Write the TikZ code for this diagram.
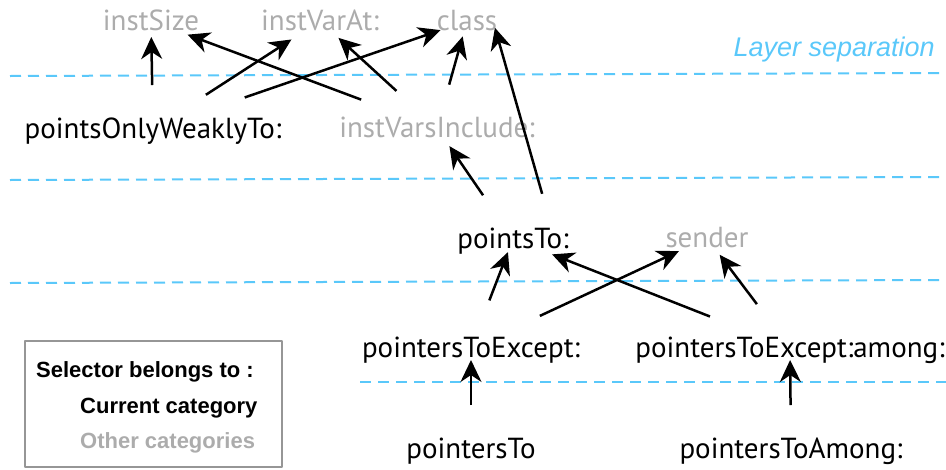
\documentclass[tikz,border=0pt]{standalone}
\usepackage{fontspec}
\newfontfamily\selfont{PT Sans}
\newfontfamily\legfont{Liberation Sans}
\usetikzlibrary{arrows.meta}
\definecolor{layerblue}{RGB}{90,200,250}
\definecolor{othgray}{RGB}{172,172,172}
\definecolor{boxgray}{RGB}{150,150,150}
\begin{document}
\begin{tikzpicture}[x=1pt,y=-1pt,line join=round,
	sel/.style={font=\selfont\fontsize{29}{33}\selectfont,text height=18pt,text depth=0pt,inner sep=0pt,anchor=base},
	cur/.style={sel,text=black},
	oth/.style={sel,text=othgray},
	leg/.style={font=\legfont\bfseries\fontsize{22}{26}\selectfont,inner sep=0pt,anchor=base west},
	arr/.style={-{Stealth[length=22pt,width=21pt,inset=7pt]},line width=2.5pt},
	sep/.style={layerblue,line width=2pt,dash pattern=on 11pt off 7pt}]
	\useasboundingbox (0,0) rectangle (946,469);
	% layers
	\draw[sep] (10,76)--(946,73);
	\draw[sep] (10,180)--(946,177);
	\draw[sep] (10,283)--(946,280);
	\draw[sep] (360,382)--(946,382);
	\node[font=\legfont\itshape\fontsize{27}{32}\selectfont,text=layerblue,inner sep=0pt,anchor=base east] (layersep) at (935,56) {Layer separation};
	% selectors
	\node[oth] (instSize) at (151,30) {instSize};
	\node[oth] (instVarAt) at (320,30) {instVarAt:};
	\node[oth] (class) at (467,30) {class};
	\node[cur] (pointsOnlyWeaklyTo) at (153,138) {pointsOnlyWeaklyTo:};
	\node[oth] (instVarsInclude) at (437,137) {instVarsInclude:};
	\node[cur] (pointsTo) at (513,248) {pointsTo:};
	\node[oth] (sender) at (707,247) {sender};
	\node[cur] (pointersToExcept) at (471,357) {pointersToExcept:};
	\node[cur] (pointersToExceptAmong) at (790,357) {pointersToExcept:among:};
	\node[cur] (pointersTo) at (471,458) {pointersTo};
	\node[cur] (pointersToAmong) at (791,458) {pointersToAmong:};
	% calls
	\draw[arr,shorten <=44pt,shorten >=16pt] (pointsOnlyWeaklyTo.center)--(instSize.center);
	\draw[arr,shorten <=81pt,shorten >=39pt] (instVarsInclude.center)--(instSize.center);
	\draw[arr,shorten <=63pt,shorten >=34pt] (pointsOnlyWeaklyTo.center)--(instVarAt.center);
	\draw[arr,shorten <=97pt,shorten >=28pt] (pointsOnlyWeaklyTo.center)--(class.center);
	\draw[arr,shorten <=55pt,shorten >=25pt] (instVarsInclude.center)--(instVarAt.center);
	\draw[arr,shorten <=45pt,shorten >=16pt] (instVarsInclude.center)--(class.center);
	\draw[arr,shorten <=47pt,shorten >=7pt] ([xshift=42pt]pointsTo.center)--([xshift=26pt]class.center);
	\draw[arr,shorten <=53pt,shorten >=22pt] (pointsTo.center)--(instVarsInclude.center);
	\draw[arr,shorten <=51pt,shorten >=14pt] (pointersToExcept.center)--(pointsTo.center);
	\draw[arr,shorten <=76pt,shorten >=31pt] (pointersToExcept.center)--(sender.center);
	\draw[arr,shorten <=86pt,shorten >=42pt] (pointersToExceptAmong.center)--(pointsTo.center);
	\draw[arr,shorten <=55pt,shorten >=21pt] (pointersToExceptAmong.center)--(sender.center);
	\draw[arr,shorten <=44pt,shorten >=12pt] (pointersTo.center)--(pointersToExcept.center);
	\draw[arr,shorten <=44pt,shorten >=12pt] (pointersToAmong.center)--(pointersToExceptAmong.center);
	% legend
	\draw[boxgray,line width=1.5pt] (25,341) rectangle (282,467);
	\node[leg] (legendTitle) at (36,377) {Selector belongs to :};
	\node[leg] (legendCurrent) at (80,413) {Current category};
	\node[leg,text=othgray] (legendOther) at (80,448) {Other categories};
\end{tikzpicture}
\end{document}
